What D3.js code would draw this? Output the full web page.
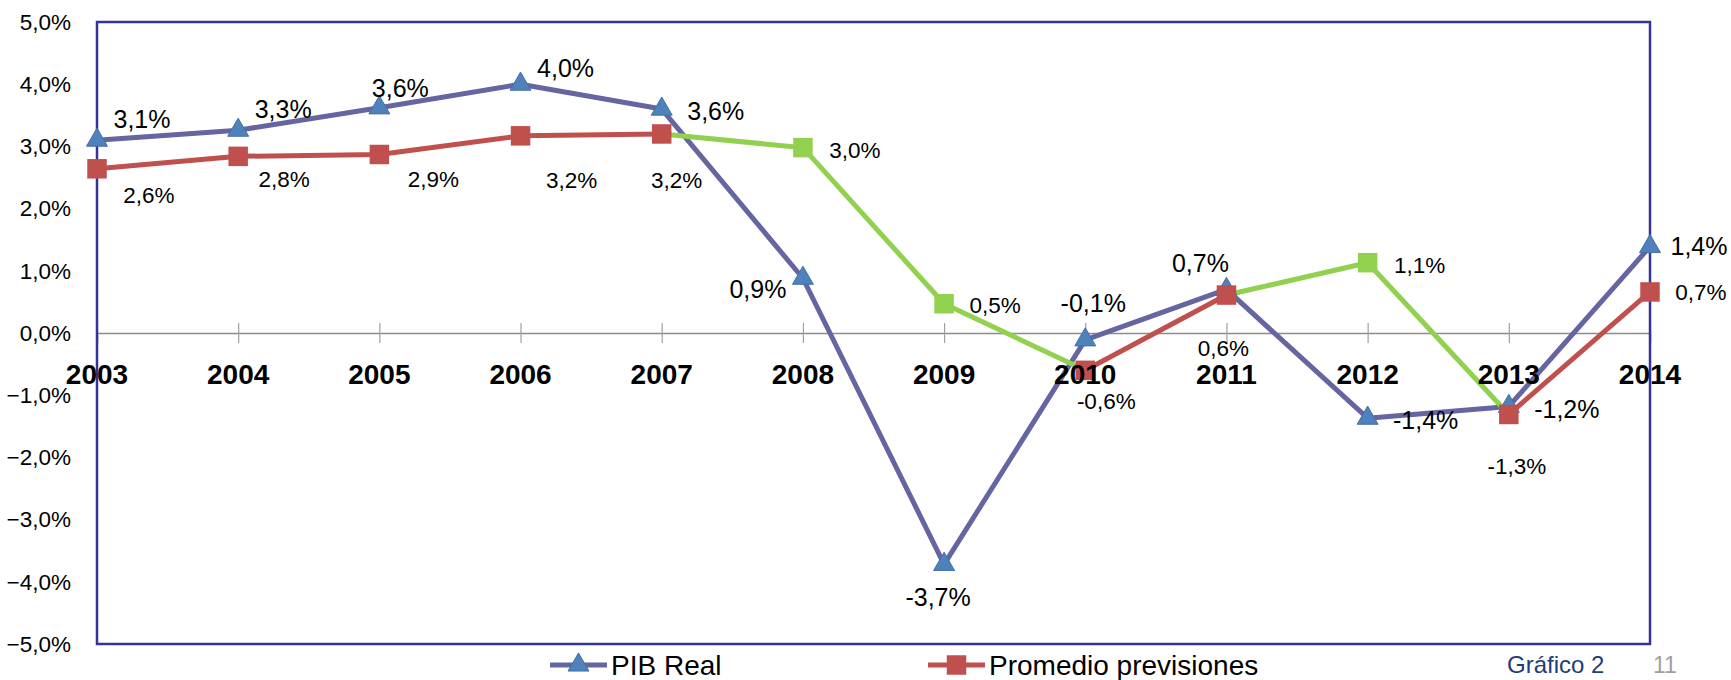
<!DOCTYPE html>
<html>
<head>
<meta charset="utf-8">
<script src="https://cdn.jsdelivr.net/npm/d3@7"></script>
<style>
  html, body { margin: 0; padding: 0; background: #fff; }
  svg { display: block; }
  text { font-family: "Liberation Sans", Arial, sans-serif; }
</style>
</head>
<body>
<svg id="chart" width="1731" height="680"></svg>
<script>
// ---- data ----
const years = [2003, 2004, 2005, 2006, 2007, 2008, 2009, 2010, 2011, 2012, 2013, 2014];
const pibReal = [3.1, 3.26, 3.62, 4.0, 3.6, 0.88, -3.72, -0.11, 0.7, -1.37, -1.18, 1.39];
const promedioPrevisiones = [2.64, 2.84, 2.87, 3.17, 3.2, 2.98, 0.47, -0.6, 0.61, 1.13, -1.31, 0.66];
// points of "Promedio previsiones" highlighted in green
const promedioHighlight = [false, false, false, false, false, true, true, false, false, true, false, false];
const pibLabels = ["3,1%", "3,3%", "3,6%", "4,0%", "3,6%", "0,9%", "-3,7%", "-0,1%", "0,7%", "-1,4%", "-1,2%", "1,4%"];
const promLabels = ["2,6%", "2,8%", "2,9%", "3,2%", "3,2%", "3,0%", "0,5%", "-0,6%", "0,6%", "1,1%", "-1,3%", "0,7%"];
const yTicks = [-5, -4, -3, -2, -1, 0, 1, 2, 3, 4, 5];
const seriesNames = ["PIB Real", "Promedio previsiones"];

// ---- label placement (offsets from the point, px) ----
const pibLabelOffset = [[45,-21],[45,-21],[21,-20],[45,-16],[54,2],[-45,11],[-6,33],[8,-37],[-26,-26],[58,2],[58,3],[49,0]];
const promLabelOffset = [[52,26],[46,23],[54,25],[51,44],[15,46],[52,2],[51,1],[21,31],[-3,53],[52,2],[8,52],[51,0]];

// ---- styles ----
const C_PIB_LINE = "#6565A2", C_PIB_MARK = "#4F81BD", C_PIB_MARK_STROKE = "#44709F";
const C_RED = "#C0504D", C_GREEN = "#92D050", C_BORDER = "#333399";

const svg = d3.select("#chart");
const L = 97, R = 1650, T = 22, B = 644;
const x = d3.scalePoint().domain(years).range([L, R]);
const y = d3.scaleLinear().domain([-5, 5]).range([B, T]);
const fmt = v => d3.format(".1f")(v).replace(".", ",") + "%";

// y axis
const yAxis = svg.append("g").attr("transform", `translate(${L},0)`)
  .call(d3.axisLeft(y).tickValues(yTicks).tickFormat(fmt).tickSize(0).tickPadding(26));
yAxis.select(".domain").remove();
yAxis.selectAll("text").attr("font-size", 22.5).attr("fill", "#000")
  .attr("font-family", '"Liberation Sans", Arial, sans-serif');

// zero line + category ticks
const xAxis = svg.append("g").attr("transform", `translate(0,${y(0)})`)
  .call(d3.axisBottom(x).tickSize(10).tickFormat(""));
xAxis.select(".domain").attr("stroke", "#8c8c8c").attr("stroke-width", 1.5);
xAxis.selectAll(".tick line").attr("y1", -10).attr("y2", 10).attr("stroke", "#a0a0a0").attr("stroke-width", 1.2);

// border
svg.append("rect").attr("x", L).attr("y", T).attr("width", R - L).attr("height", B - T)
  .attr("fill", "none").attr("stroke", C_BORDER).attr("stroke-width", 2.5);

const line = d3.line().x(d => x(d.year)).y(d => y(d.v));
const pibData = years.map((yr, i) => ({ year: yr, v: pibReal[i] }));
const promData = years.map((yr, i) => ({ year: yr, v: promedioPrevisiones[i], g: promedioHighlight[i] }));

// PIB line
svg.append("path").datum(pibData).attr("d", line).attr("fill", "none")
  .attr("stroke", C_PIB_LINE).attr("stroke-width", 5).attr("stroke-linejoin", "round");

// Promedio line: runs of segments in red or green
const runs = [];
for (let i = 0; i < promData.length - 1; i++) {
  const green = promData[i].g || promData[i + 1].g;
  const last = runs[runs.length - 1];
  if (last && last.green === green) last.pts.push(promData[i + 1]);
  else runs.push({ green, pts: [promData[i], promData[i + 1]] });
}
svg.append("g").selectAll("path").data(runs).join("path")
  .attr("d", d => line(d.pts)).attr("fill", "none")
  .attr("stroke", d => d.green ? C_GREEN : C_RED).attr("stroke-width", 5).attr("stroke-linejoin", "round");

// markers
const tri = d3.symbol(d3.symbolTriangle, 190);
const sq = d3.symbol(d3.symbolSquare, 380);
svg.append("g").selectAll("path").data(pibData).join("path")
  .attr("d", tri).attr("transform", d => `translate(${x(d.year)},${y(d.v)})`)
  .attr("fill", C_PIB_MARK).attr("stroke", C_PIB_MARK_STROKE).attr("stroke-width", 1);
svg.append("g").selectAll("path").data(promData).join("path")
  .attr("d", sq).attr("transform", d => `translate(${x(d.year)},${y(d.v)})`)
  .attr("fill", d => d.g ? C_GREEN : C_RED);

// x labels
svg.append("g").selectAll("text").data(years).join("text")
  .attr("x", d => x(d)).attr("y", y(0) + 41).attr("dy", "0.35em")
  .attr("text-anchor", "middle").attr("font-weight", "bold").attr("font-size", 28)
  .attr("fill", "#000").text(d => d);

// data labels
svg.append("g").selectAll("text").data(pibData).join("text")
  .attr("x", (d, i) => x(d.year) + pibLabelOffset[i][0])
  .attr("y", (d, i) => y(d.v) + pibLabelOffset[i][1])
  .attr("dy", "0.35em").attr("text-anchor", "middle").attr("font-size", 25).attr("fill", "#000")
  .text((d, i) => pibLabels[i]);
svg.append("g").selectAll("text").data(promData).join("text")
  .attr("x", (d, i) => x(d.year) + promLabelOffset[i][0])
  .attr("y", (d, i) => y(d.v) + promLabelOffset[i][1])
  .attr("dy", "0.35em").attr("text-anchor", "middle").attr("font-size", 22.5).attr("fill", "#000")
  .text((d, i) => promLabels[i]);

// legend
const leg = svg.append("g");
const legItems = [
  { name: seriesNames[0], x0: 550, line: C_PIB_LINE, sym: tri, fill: C_PIB_MARK, stroke: C_PIB_MARK_STROKE },
  { name: seriesNames[1], x0: 928, line: C_RED, sym: sq, fill: C_RED, stroke: "none" }
];
const ly = 665;
legItems.forEach(it => {
  leg.append("line").attr("x1", it.x0).attr("x2", it.x0 + 57).attr("y1", ly).attr("y2", ly)
    .attr("stroke", it.line).attr("stroke-width", 5);
  leg.append("path").attr("d", it.sym).attr("transform", `translate(${it.x0 + 28.5},${ly})`)
    .attr("fill", it.fill).attr("stroke", it.stroke);
  leg.append("text").attr("x", it.x0 + 61).attr("y", ly).attr("dy", "0.35em")
    .attr("font-size", 28).attr("fill", "#000").text(it.name);
});

// footer
svg.append("text").attr("x", 1507).attr("y", 673).attr("font-size", 24).attr("fill", "#1F3C7C").text("Gráfico 2");
svg.append("text").attr("x", 1653).attr("y", 673).attr("font-size", 23).attr("fill", "#A0A0A0").text("11");
</script>
</body>
</html>
